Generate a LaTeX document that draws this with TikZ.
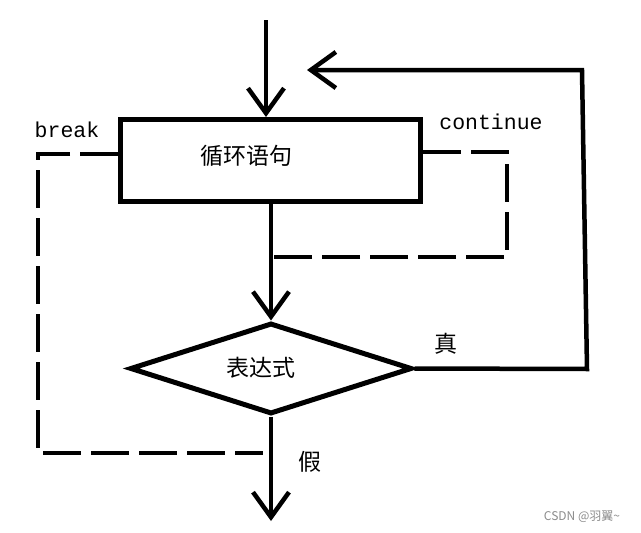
\documentclass[tikz,border=0pt]{standalone}
\usepackage{fontspec}
\newfontfamily\cjk{Noto Sans CJK SC}
\newfontfamily\mono{Liberation Mono}
\usetikzlibrary{shapes.geometric,arrows.meta}
\begin{document}
\begin{tikzpicture}[x=1pt,y=-1pt,
  box/.style={draw, line width=5pt, minimum width=300pt, minimum height=82pt, inner sep=0pt},
  decision/.style={diamond, draw, line width=5pt, minimum width=282pt, minimum height=91pt, inner sep=0pt},
  flow/.style={line width=4.5pt, -{Straight Barb[length=25pt,width=36pt,line width=4.5pt]}},
  jump/.style={line width=3.5pt, dash pattern=on 38pt off 10pt},
  cn/.style={font=\cjk\fontsize{23}{25}\selectfont, inner sep=0pt},
  en/.style={font=\mono\fontsize{21.5}{24}\selectfont, inner sep=0pt},
  wmark/.style={font=\cjk\fontsize{12}{13}\selectfont, text=black!45, inner sep=0pt}
]
\useasboundingbox[fill=white] (0,0) rectangle (641,533);

\node[box] (loop) at (270.5,160.5) {};
\node[cn] (looptext) at (246,156) {循环语句};
\node[decision] (cond) at (271,368.5) {};
\node[cn] (condtext) at (261,368) {表达式};

\coordinate (entry) at (266,20);
\draw[flow] (entry) -- (entry |- loop.north);
\draw[flow] (loop.south -| cond.north) -- (cond.north);
\coordinate (exit) at (271,521);
\draw[flow] (cond.south) -- (exit);
\coordinate (back) at (307,70);
\draw[flow] (cond.east) -- (587,369) -- (582,70) -- (back);

\draw[jump] (loop.west |- 0,154) -- (38,154) -- (38,453) -- (263,453);
\draw[jump] (loop.east |- 0,152) -- (507,152) -- (507,257) -- (270,257);

\node[en] (brk) at (67,130) {break};
\node[en] (cont) at (491,122) {continue};
\node[cn] (yes) at (446,344) {真};
\node[cn] (no) at (310,462) {假};
\node[wmark] (wm) at (582,517) {CSDN @羽翼\char"7E};
\end{tikzpicture}
\end{document}
